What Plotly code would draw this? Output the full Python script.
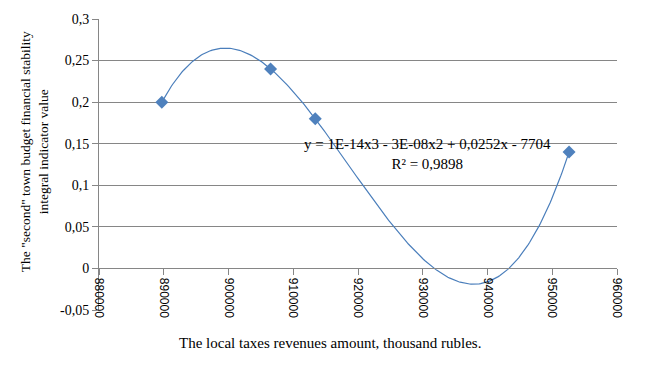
import numpy as np
import plotly.graph_objects as go

# Data
revenues = [889700, 906500, 913400, 952600]
indicator = [0.200, 0.240, 0.180, 0.140]

x_ticks = [880000, 890000, 900000, 910000, 920000, 930000, 940000, 950000, 960000]
y_ticks = [-0.05, 0, 0.05, 0.1, 0.15, 0.2, 0.25, 0.3]
y_tick_labels = ["-0,05", "0", "0,05", "0,1", "0,15", "0,2", "0,25", "0,3"]

trend_label = "y = 1E-14x3 - 3E-08x2 + 0,0252x - 7704<br>R² = 0,9898"
x_title = "The local taxes revenues amount, thousand rubles."
y_title = "The \"second\" town budget financial stability<br>integral indicator value"

# Polynomial (order 3) trendline computed from the data
xs = np.array(revenues, dtype=float)
ys = np.array(indicator, dtype=float)
xc = xs.mean()
coef = np.polyfit(xs - xc, ys, 3)
tx = np.linspace(xs.min(), xs.max(), 300)
ty = np.polyval(coef, tx - xc)

FONT = "Liberation Serif"
GRID = "#868686"

fig = go.Figure()
fig.add_trace(go.Scatter(x=tx, y=ty, mode="lines",
                         line=dict(color="#4A7EBB", width=1.2),
                         hoverinfo="skip", showlegend=False))
fig.add_trace(go.Scatter(x=revenues, y=indicator, mode="markers",
                         marker=dict(symbol="diamond", size=10, color="#4F81BD"),
                         showlegend=False))

y_min, y_max = y_ticks[0], y_ticks[-1]
fig.update_layout(
    width=653, height=366,
    margin=dict(l=99, r=36, t=17, b=56),
    plot_bgcolor="white", paper_bgcolor="white",
    font=dict(family=FONT, size=13, color="black"),
    separators=", ",
    xaxis=dict(range=[x_ticks[0], x_ticks[-1]], tickvals=x_ticks, tickformat="d",
               tickangle=90, showgrid=False, zeroline=False,
               showline=True, linecolor=GRID, linewidth=1,
               ticks="outside", ticklen=6, tickcolor=GRID,
               anchor="free", position=(0 - y_min) / (y_max - y_min),
               tickfont=dict(family="Liberation Sans", size=12)),
    yaxis=dict(range=[y_min, y_max], tickvals=y_ticks, ticktext=y_tick_labels,
               showgrid=True, gridcolor=GRID, gridwidth=1, zeroline=False,
               showline=True, linecolor=GRID, linewidth=1,
               ticks="outside", ticklen=6, tickcolor=GRID,
               tickfont=dict(family=FONT, size=14)),
    annotations=[
        dict(text=trend_label, xref="paper", yref="paper", x=0.635, y=0.536,
             showarrow=False, align="center", font=dict(family=FONT, size=15)),
        dict(text=x_title, xref="paper", yref="paper", x=0.446, y=-0.115,
             yanchor="middle", showarrow=False, font=dict(family=FONT, size=15)),
        dict(text=y_title, xref="paper", yref="paper", x=-0.124, y=0.545,
             textangle=-90, xanchor="center", yanchor="middle", showarrow=False,
             align="center", font=dict(family=FONT, size=13.5)),
    ],
)

fig.write_html("out.html", config={"displayModeBar": False},
               post_script="document.body.style.margin='0';")
